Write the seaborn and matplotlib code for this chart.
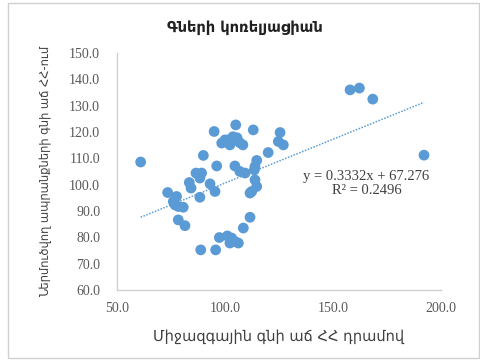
import matplotlib
matplotlib.use("Agg")
import matplotlib.pyplot as plt
import matplotlib.patches as patches
import numpy as np
import pandas as pd
import seaborn as sns

# Data
intl_price_growth = [61.0, 95.0, 100.0, 98.5, 90.0, 96.2, 86.6, 89.2, 88.4, 83.5,
                     84.3, 93.1, 95.4, 88.4, 73.5, 77.6, 76.1, 78.4, 80.7, 76.9,
                     78.4, 81.5, 97.4, 101.1, 88.8, 95.7, 105.0, 113.1, 101.4, 103.7,
                     105.6, 106.9, 108.3, 102.3, 125.5, 124.7, 127.0, 120.0, 104.6, 106.9,
                     109.3, 114.7, 113.9, 113.6, 113.9, 114.7, 112.4, 111.6, 111.6, 108.5,
                     103.1, 104.6, 106.2, 102.3, 157.9, 162.2, 168.4, 192.1]
local_price_growth = [108.6, 120.2, 117.0, 115.8, 111.1, 107.1, 104.4, 104.4, 102.5, 100.8,
                      98.7, 100.3, 97.4, 95.2, 97.0, 95.5, 93.6, 91.7, 91.4, 92.3,
                      86.6, 84.4, 79.9, 80.5, 75.2, 75.2, 122.7, 120.8, 117.0, 118.2,
                      117.8, 115.9, 115.1, 115.1, 119.8, 116.4, 115.1, 112.2, 107.1, 105.0,
                      104.4, 109.2, 106.9, 105.6, 101.8, 99.3, 97.4, 96.8, 87.6, 83.5,
                      79.7, 78.4, 77.8, 77.8, 136.0, 136.7, 132.5, 111.2]
trend_slope = 0.3332
trend_intercept = 67.276
r_squared = 0.2496
x_ticks = [50.0, 100.0, 150.0, 200.0]
y_ticks = [60.0, 70.0, 80.0, 90.0, 100.0, 110.0, 120.0, 130.0, 140.0, 150.0]

title = "Գների կոռելյացիան"
x_label = "Միջազգային գնի աճ ՀՀ դրամով"
y_label = "Ներմուծվող ապրանքների գնի աճ ՀՀ-ում"

df = pd.DataFrame({"x": intl_price_growth, "y": local_price_growth})

sns.set_theme(style="white")
plt.rcParams["font.family"] = ["Liberation Serif", "DejaVu Serif", "DejaVu Sans"]

fig = plt.figure(figsize=(4.81, 3.61), dpi=100)
ax = fig.add_axes([0.243, 0.197, 0.674, 0.656])

blue = "#5B9BD5"
sns.scatterplot(data=df, x="x", y="y", ax=ax, color=blue, s=60, edgecolor="none",
                linewidth=0, zorder=3)

xs = np.array([min(intl_price_growth), max(intl_price_growth)])
ax.plot(xs, trend_slope * xs + trend_intercept, linestyle=(0, (1, 1)), color=blue,
        linewidth=1.1, zorder=2)

ax.set_xlim(50, 200)
ax.set_ylim(60, 150)
ax.set_xticks(x_ticks)
ax.set_yticks(y_ticks)
ax.set_xticklabels([f"{v:.1f}" for v in x_ticks])
ax.set_yticklabels([f"{v:.1f}" for v in y_ticks])
ax.tick_params(axis="both", length=0, labelsize=10, labelcolor="#595959")
ax.tick_params(axis="y", pad=12)
ax.tick_params(axis="x", pad=9)

for side in ["top", "right"]:
    ax.spines[side].set_visible(False)
for side in ["left", "bottom"]:
    ax.spines[side].set_color("#D0D0D0")
    ax.spines[side].set_linewidth(1.0)

ax.set_xlabel(x_label, fontsize=10.5, color="#404040", family=["DejaVu Sans"], labelpad=10)
ax.set_ylabel(y_label, fontsize=8.3, color="#404040", family=["DejaVu Sans"], labelpad=12)
fig.text(0.51, 0.925, title, ha="center", va="center", fontsize=10.5,
         fontweight="bold", color="#202020", family=["DejaVu Sans"])

ax.text(0.77, 0.45, f"y = {trend_slope:.4f}x + {trend_intercept:.3f}\nR² = {r_squared:.4f}",
        transform=ax.transAxes, ha="center", va="center", fontsize=10.5,
        color="#404040", linespacing=1.15)

frame = patches.Rectangle((8 / 481, 3 / 361), 471 / 481, 355 / 361,
                          transform=fig.transFigure, fill=False,
                          edgecolor="#D0D0D0", linewidth=1.0)
fig.patches.append(frame)

fig.savefig("out.png", dpi=100, facecolor="white")
